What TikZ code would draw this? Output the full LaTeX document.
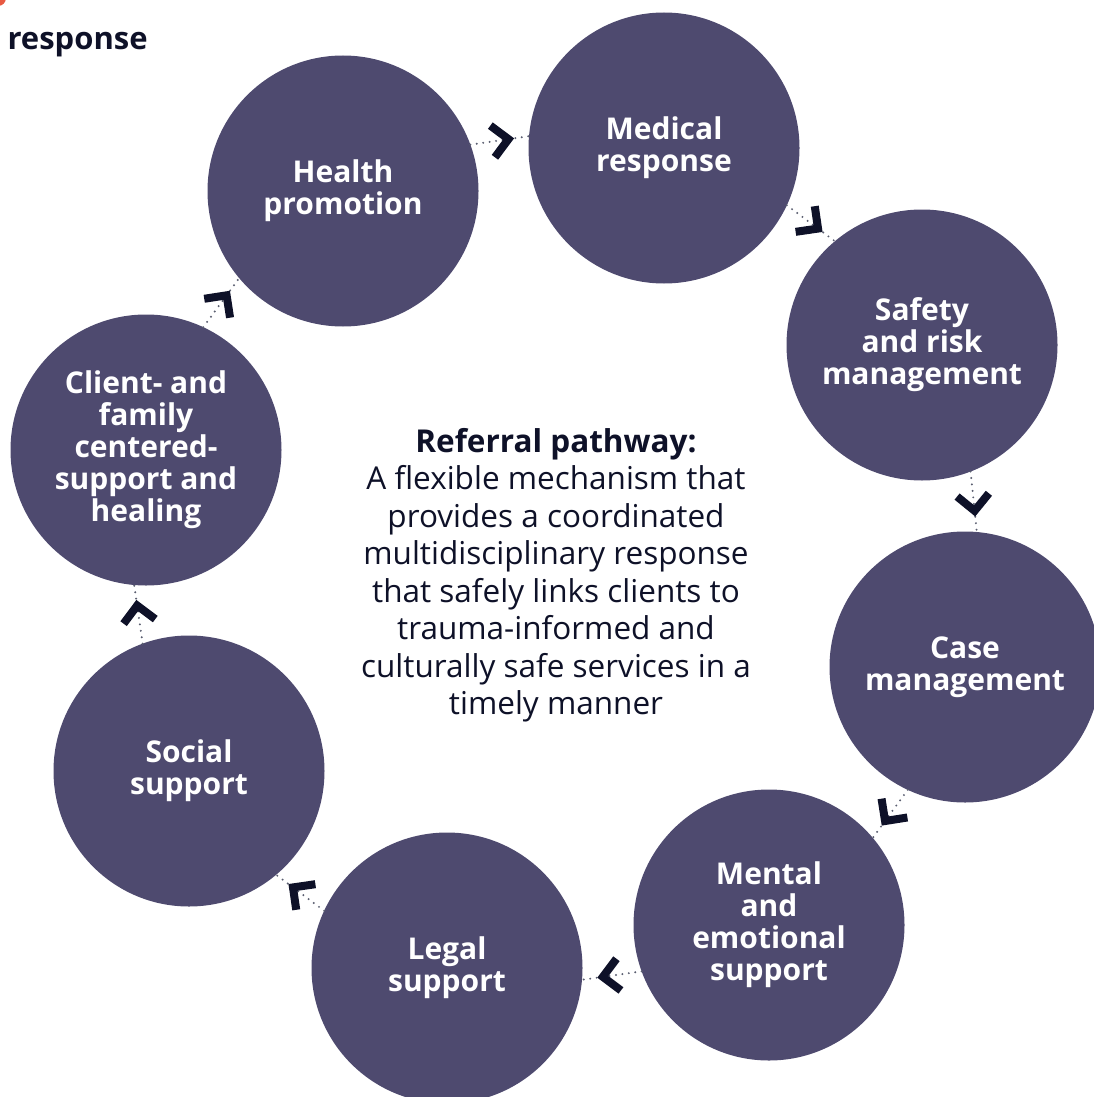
\documentclass[tikz,border=0pt]{standalone}
\usepackage{fontspec}
\setmainfont{Open Sans}
\usetikzlibrary{decorations.markings}

\definecolor{circ}{RGB}{78,74,111}
\definecolor{ink}{RGB}{14,17,40}
\definecolor{dots}{RGB}{90,94,112}
\definecolor{coral}{RGB}{232,90,66}

\tikzset{
  stage/.style={circle,fill=circ,minimum size=271pt,inner sep=0pt,outer sep=0pt,
    text=white,align=center,font=\fontsize{30}{32}\selectfont\bfseries},
  flow/.style={draw=dots,line width=2.2pt,line cap=round,dash pattern=on 0pt off 6.5pt,
    postaction={decorate},
    decoration={markings,mark=at position 0.65 with
      {\draw[ink,line width=8pt,solid,line cap=butt] (-16,16) -- (0,0) -- (-16,-16);}}}
}

\begin{document}
\begin{tikzpicture}[x=1pt,y=1pt]
\useasboundingbox (0,0) rectangle (1093,-1097);

\fill[coral] (-2,2) circle (8);
\node [anchor=base west,text=ink,font=\fontsize{31}{32}\selectfont\bfseries] (ttl) at (4,-50) {response};

\node [stage] (hp) at (343,-191) {Health\\promotion};
\node [stage] (mr) at (664,-148) {Medical\\response};
\node [stage] (sr) at (922,-345) {Safety\\and risk\\management};
\node [stage] (cm) at (965,-667) {Case\\management};
\node [stage] (me) at (769,-925) {Mental\\and\\emotional\\support};
\node [stage] (ls) at (447,-968) {Legal\\support};
\node [stage] (ss) at (189,-771) {Social\\support};
\node [stage] (cf) at (146,-450) {Client- and\\family\\centered-\\support and\\healing};

\node [align=center,text=ink,font=\fontsize{31.5}{37.5}\selectfont] (rp) at (556,-575)
  {\textbf{Referral pathway:}\\A flexible mechanism that\\provides a coordinated\\multidisciplinary response\\that safely links clients to\\trauma-informed and\\culturally safe services in a\\timely manner};

\draw[flow] (hp.20) -- (mr.175);
\draw[flow] (mr.-25) -- (sr.130);
\draw[flow] (sr.-69) -- (cm.85);
\draw[flow] (cm.-115) -- (me.40);
\draw[flow] (me.200) -- (ls.-5);
\draw[flow] (ls.155) -- (ss.-50);
\draw[flow] (ss.110) -- (cf.-95);
\draw[flow] (cf.65) -- (hp.-140);

\end{tikzpicture}
\end{document}
